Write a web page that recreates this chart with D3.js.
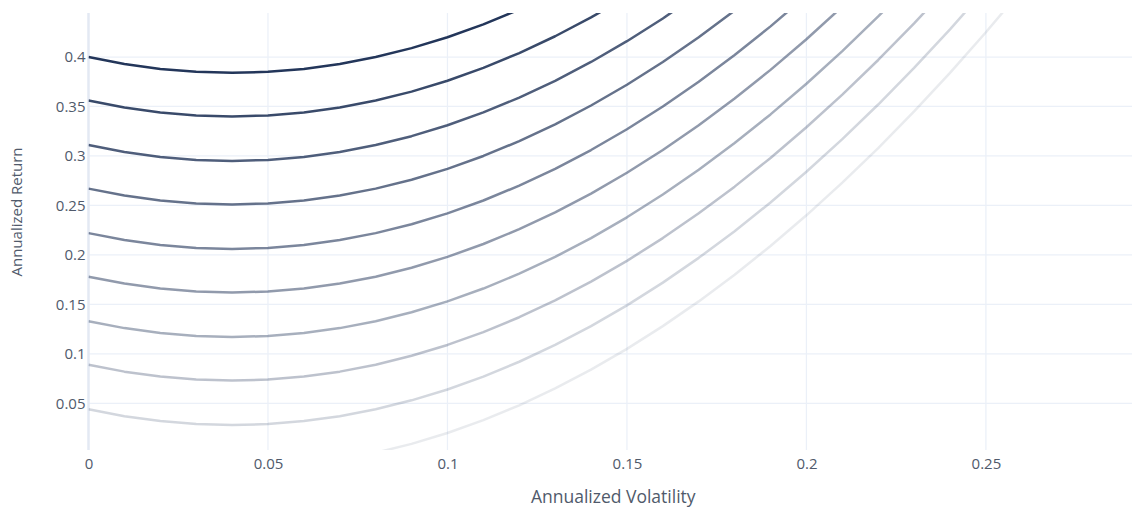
<!DOCTYPE html>
<html>
<head>
<meta charset="utf-8">
<script src="https://cdn.jsdelivr.net/npm/d3@7"></script>
<style>
  html, body { margin: 0; padding: 0; background: #fff; }
  svg { display: block; font-family: "Open Sans", "DejaVu Sans", sans-serif; }
</style>
</head>
<body>
<svg id="chart" width="1132" height="508"></svg>
<script>
// Annualized volatility sampled along every indifference curve
const volatility = [0, 0.01, 0.02, 0.03, 0.04, 0.05, 0.06, 0.07, 0.08, 0.09, 0.10, 0.11, 0.12,
  0.13, 0.14, 0.15, 0.16, 0.17, 0.18, 0.19, 0.20, 0.21, 0.22, 0.23, 0.24, 0.25, 0.26];

// Annualized return along each curve, highest utility level first
const curve1 = [0.400, 0.393, 0.388, 0.385, 0.384, 0.385, 0.388, 0.393, 0.400, 0.409, 0.420, 0.433, 0.448];
const curve2 = [0.356, 0.349, 0.344, 0.341, 0.340, 0.341, 0.344, 0.349, 0.356, 0.365, 0.376, 0.389, 0.404,
  0.421, 0.440, 0.461];
const curve3 = [0.311, 0.304, 0.299, 0.296, 0.295, 0.296, 0.299, 0.304, 0.311, 0.320, 0.331, 0.344, 0.359,
  0.376, 0.395, 0.416, 0.439, 0.464];
const curve4 = [0.267, 0.260, 0.255, 0.252, 0.251, 0.252, 0.255, 0.260, 0.267, 0.276, 0.287, 0.300, 0.315,
  0.332, 0.351, 0.372, 0.395, 0.420, 0.447];
const curve5 = [0.222, 0.215, 0.210, 0.207, 0.206, 0.207, 0.210, 0.215, 0.222, 0.231, 0.242, 0.255, 0.270,
  0.287, 0.306, 0.327, 0.350, 0.375, 0.402, 0.431, 0.462];
const curve6 = [0.178, 0.171, 0.166, 0.163, 0.162, 0.163, 0.166, 0.171, 0.178, 0.187, 0.198, 0.211, 0.226,
  0.243, 0.262, 0.283, 0.306, 0.331, 0.358, 0.387, 0.418, 0.451];
const curve7 = [0.133, 0.126, 0.121, 0.118, 0.117, 0.118, 0.121, 0.126, 0.133, 0.142, 0.153, 0.166, 0.181,
  0.198, 0.217, 0.238, 0.261, 0.286, 0.313, 0.342, 0.373, 0.406, 0.441, 0.478];
const curve8 = [0.089, 0.082, 0.077, 0.074, 0.073, 0.074, 0.077, 0.082, 0.089, 0.098, 0.109, 0.122, 0.137,
  0.154, 0.173, 0.194, 0.217, 0.242, 0.269, 0.298, 0.329, 0.362, 0.397, 0.434, 0.473];
const curve9 = [0.044, 0.037, 0.032, 0.029, 0.028, 0.029, 0.032, 0.037, 0.044, 0.053, 0.064, 0.077, 0.092,
  0.109, 0.128, 0.149, 0.172, 0.197, 0.224, 0.253, 0.284, 0.317, 0.352, 0.389, 0.428, 0.469];
const curve10 = [0.000, -0.007, -0.012, -0.015, -0.016, -0.015, -0.012, -0.007, 0.000, 0.009, 0.020, 0.033,
  0.048, 0.065, 0.084, 0.105, 0.128, 0.153, 0.180, 0.209, 0.240, 0.273, 0.308, 0.345, 0.384, 0.425, 0.468];

const curves = [curve1, curve2, curve3, curve4, curve5, curve6, curve7, curve8, curve9, curve10];

// Axis ticks
const xTickValues = [0, 0.05, 0.1, 0.15, 0.2, 0.25];
const xTickLabels = ["0", "0.05", "0.1", "0.15", "0.2", "0.25"];
const yTickValues = [0.05, 0.1, 0.15, 0.2, 0.25, 0.3, 0.35, 0.4];
const yTickLabels = ["0.05", "0.1", "0.15", "0.2", "0.25", "0.3", "0.35", "0.4"];

// Layout
const W = 1132, H = 508;
const plot = { left: 88.5, right: 1132, top: 13, bottom: 450 };

const x = d3.scaleLinear().domain([0, 0.2907]).range([plot.left, plot.right]);
const y = d3.scaleLinear().domain([0.0028, 0.4445]).range([plot.bottom, plot.top]);

const svg = d3.select("#chart");

svg.append("defs").append("clipPath").attr("id", "plot-clip")
  .append("rect")
  .attr("x", plot.left).attr("y", plot.top)
  .attr("width", plot.right - plot.left).attr("height", plot.bottom - plot.top);

// Grid
const grid = svg.append("g").attr("class", "grid");
grid.selectAll("line.gx").data(xTickValues.filter(v => v !== 0)).join("line")
  .attr("class", "gx")
  .attr("x1", d => x(d)).attr("x2", d => x(d))
  .attr("y1", plot.top).attr("y2", plot.bottom)
  .attr("stroke", "#ebf0f8").attr("stroke-width", 1.25);
grid.selectAll("line.gy").data(yTickValues).join("line")
  .attr("class", "gy")
  .attr("x1", plot.left).attr("x2", plot.right)
  .attr("y1", d => y(d)).attr("y2", d => y(d))
  .attr("stroke", "#ebf0f8").attr("stroke-width", 1.25);

// Zero line at volatility 0
grid.append("line")
  .attr("x1", x(0)).attr("x2", x(0))
  .attr("y1", plot.top).attr("y2", plot.bottom)
  .attr("stroke", "#e3e9f3").attr("stroke-width", 2.5);

// Curves
const line = d3.line()
  .x((d, i) => x(volatility[i]))
  .y(d => y(d));

const curveGroup = svg.append("g").attr("clip-path", "url(#plot-clip)");
curveGroup.selectAll("path").data(curves).join("path")
  .attr("d", d => line(d))
  .attr("fill", "none")
  .attr("stroke", "#23365a")
  .attr("stroke-opacity", (d, i) => 1 - i * 0.1)
  .attr("stroke-width", 2.5)
  .attr("stroke-linejoin", "round");

// Axes
const xAxis = d3.axisBottom(x)
  .tickValues(xTickValues)
  .tickFormat((d, i) => xTickLabels[i])
  .tickSize(0).tickPadding(8);
const gx = svg.append("g").attr("transform", `translate(0,${plot.bottom})`).call(xAxis);

const yAxis = d3.axisLeft(y)
  .tickValues(yTickValues)
  .tickFormat((d, i) => yTickLabels[i])
  .tickSize(0).tickPadding(3);
const gy = svg.append("g").attr("transform", `translate(${plot.left},0)`).call(yAxis);

[gx, gy].forEach(g => {
  g.select(".domain").remove();
  g.selectAll("text")
    .attr("fill", "#505a6b")
    .style("font-family", "'Open Sans', sans-serif")
    .style("font-size", "15px");
});

// Axis titles
svg.append("text")
  .attr("x", (plot.left + plot.right) / 2 + 3)
  .attr("y", 503)
  .attr("text-anchor", "middle")
  .attr("fill", "#505a6b")
  .style("font-size", "17.5px")
  .text("Annualized Volatility");

svg.append("text")
  .attr("transform", "translate(22,212) rotate(-90)")
  .attr("text-anchor", "middle")
  .attr("fill", "#505a6b")
  .style("font-size", "15px")
  .text("Annualized Return");
</script>
</body>
</html>
